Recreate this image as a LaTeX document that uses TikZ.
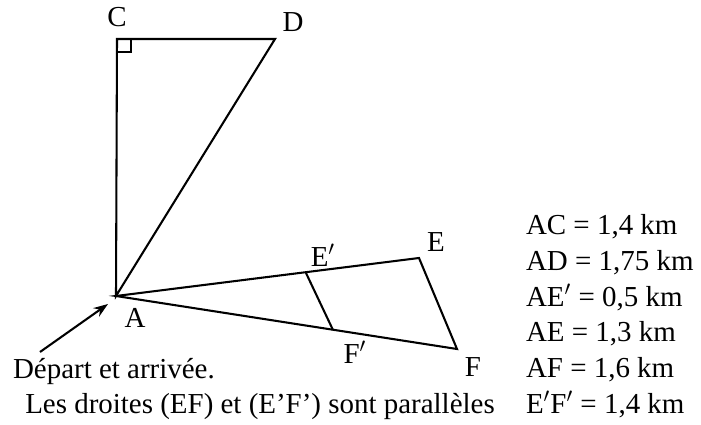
\documentclass[tikz,border=0pt]{standalone}
\usepackage{fontspec}
\setmainfont{Liberation Serif}
\usetikzlibrary{arrows.meta}

\begin{document}
\begin{tikzpicture}[x=0.017cm,y=-0.017cm,font=\fontsize{14}{16}\selectfont,line width=1pt,
  pt/.style={inner sep=1pt}]
    \useasboundingbox (0,0) rectangle (701,425);
    \coordinate (A) at (116,296);
    \coordinate (C) at (117,39);
    \coordinate (D) at (275,39);
    \coordinate (E) at (419,258);
    \coordinate (F) at (457,349);
    \coordinate (Ep) at (306,273);
    \coordinate (Fp) at (333,330);
    \draw (A)--(C)--(D)--cycle;
    \draw (C) rectangle ++(14,13);
    \draw (A)--(E)--(F)--cycle;
    \draw (Ep)--(Fp);
    \node[pt] (lC) at (117,17){C};
    \node[pt] (lD) at (293,22){D};
    \node[pt] (lEp) at (323,255){E$'$};
    \node[pt] (lE) at (436,242){E};
    \node[pt] (lA) at (135,318){A};
    \node[pt] (lFp) at (355,352){F$'$};
    \node[pt] (lF) at (473,367){F};
    \node[anchor=base west,inner sep=0pt] (depart) at (12,378){Départ et arrivée.};
    \coordinate (tail) at (40,352);
    \coordinate (tip) at (108,304);
    \draw[-{Stealth[length=7pt,width=5pt]}] (tail)--(tip);
    \node[anchor=base,inner sep=0pt] (droites) at (260,413){Les droites (EF) et (E’F’) sont parallèles};
    \foreach \y/\t in {234/{AC = 1,4 km},270/{AD = 1,75 km},306/{AE$'$ = 0,5 km},341/{AE = 1,3 km},377/{AF = 1,6 km},413/{E$'$F$'$ = 1,4 km}}{
      \node[anchor=base west,inner sep=0pt] at (525,\y){\t};}
  \end{tikzpicture}
\end{document}
